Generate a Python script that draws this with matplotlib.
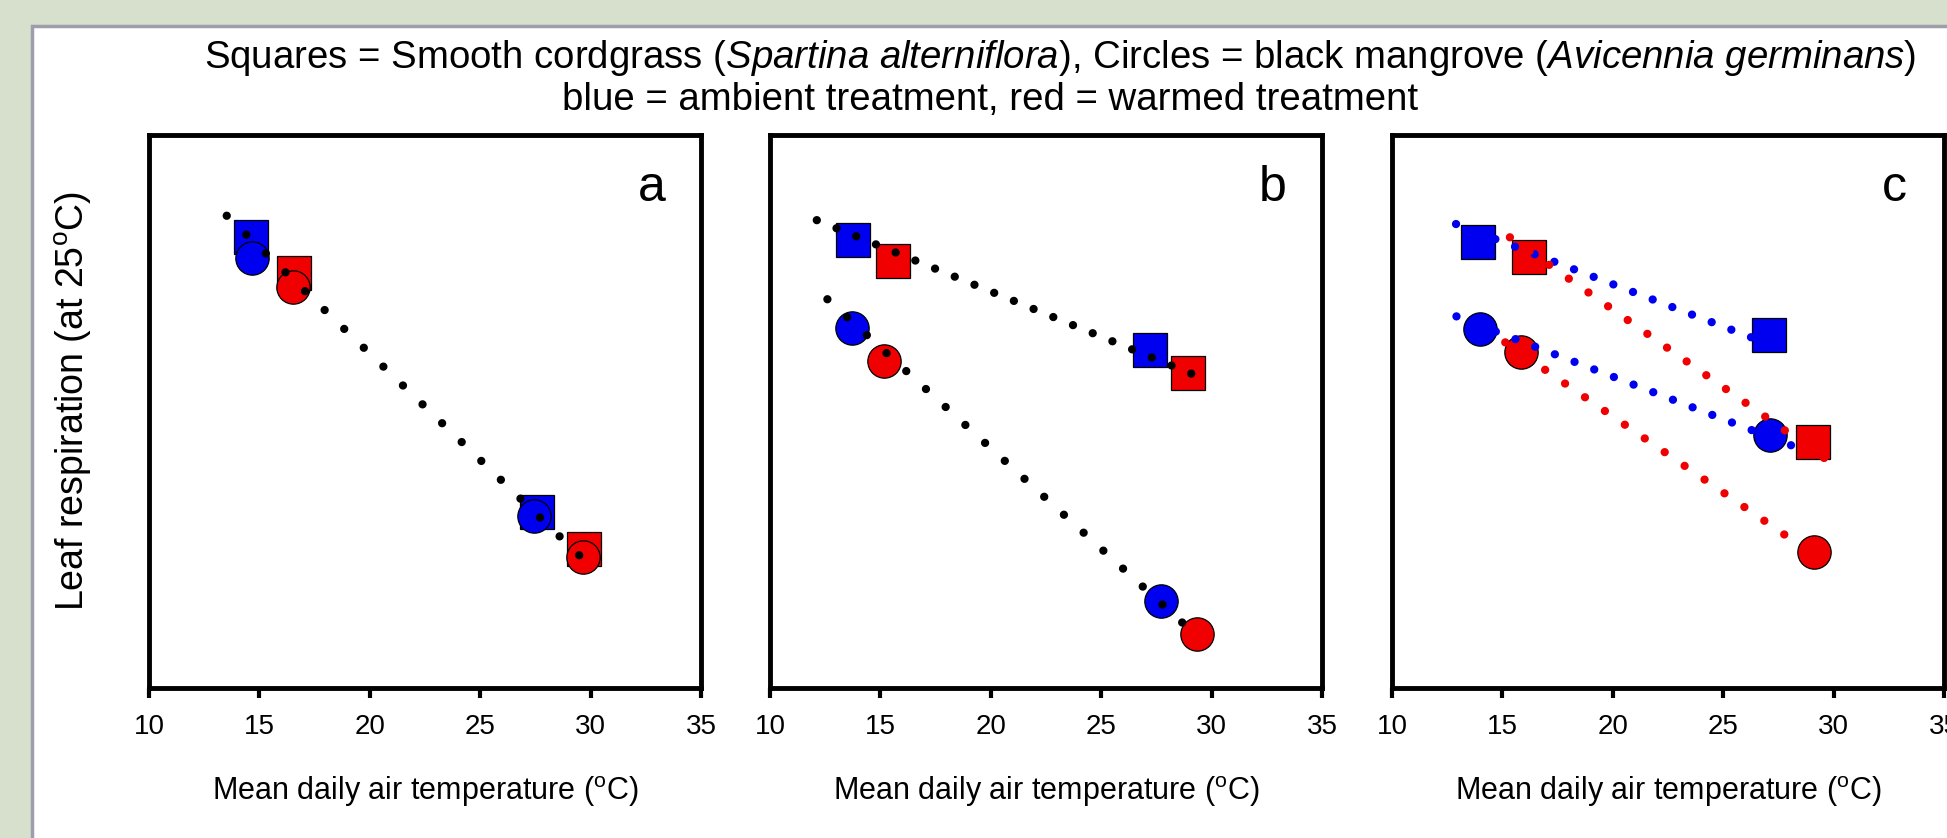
import numpy as np
import matplotlib
matplotlib.use("Agg")
import matplotlib.pyplot as plt
from matplotlib.patches import Rectangle

plt.rcParams['font.family'] = ['Liberation Sans', 'DejaVu Sans']
plt.rcParams['mathtext.fontset'] = 'custom'
plt.rcParams['mathtext.rm'] = 'Liberation Sans'
plt.rcParams['mathtext.it'] = 'Liberation Sans:italic'

# Data: x = mean daily air temperature (C),
# y = leaf respiration as fraction of the (unlabelled) axis height
# panel a
a_sq_amb_x, a_sq_amb_y = [14.63, 27.59], [0.816, 0.318]
a_sq_warm_x, a_sq_warm_y = [16.58, 29.69], [0.750, 0.251]
a_ci_amb_x, a_ci_amb_y = [14.68, 27.43], [0.778, 0.311]
a_ci_warm_x, a_ci_warm_y = [16.50, 29.64], [0.726, 0.237]
a_fit_x, a_fit_y = [13.52, 30.37], [0.854, 0.206]

# panel b
b_sq_amb_x, b_sq_amb_y = [13.76, 27.23], [0.811, 0.611]
b_sq_warm_x, b_sq_warm_y = [15.57, 28.94], [0.773, 0.570]
b_ci_amb_x, b_ci_amb_y = [13.71, 27.71], [0.651, 0.157]
b_ci_warm_x, b_ci_warm_y = [15.18, 29.32], [0.591, 0.097]
b_fit_sq_x, b_fit_sq_y = [12.12, 29.97], [0.846, 0.554]
b_fit_ci_x, b_fit_ci_y = [12.60, 29.56], [0.703, 0.086]

# panel c
c_sq_amb_x, c_sq_amb_y = [13.90, 27.08], [0.806, 0.638]
c_sq_warm_x, c_sq_warm_y = [16.19, 29.06], [0.779, 0.445]
c_ci_amb_x, c_ci_amb_y = [13.99, 27.13], [0.649, 0.457]
c_ci_warm_x, c_ci_warm_y = [15.85, 29.10], [0.607, 0.246]
c_fit_sq_amb_x, c_fit_sq_amb_y = [12.90, 28.04], [0.839, 0.607]
c_fit_sq_warm_x, c_fit_sq_warm_y = [15.34, 29.57], [0.815, 0.416]
c_fit_ci_amb_x, c_fit_ci_amb_y = [12.92, 28.07], [0.672, 0.439]
c_fit_ci_warm_x, c_fit_ci_warm_y = [15.13, 29.57], [0.625, 0.228]

x_ticks = [10, 15, 20, 25, 30, 35]
panel_letters = ['a', 'b', 'c']

BLUE = '#0000f0'
RED = '#f00000'
W, H = 1947, 838

fig = plt.figure(figsize=(W / 100, H / 100), dpi=100)
fig.patch.set_facecolor('#d6e0cc')

# white slide box with grey border
fig.patches.append(Rectangle((32 / W, -0.05), 1.1, 1 - 26 / H + 0.05,
                             transform=fig.transFigure, facecolor='white',
                             edgecolor='#9d9dac', linewidth=2.5, zorder=-5))

lefts = [149, 770, 1392]
axes = []
for left in lefts:
    ax = fig.add_axes([left / W, (H - 688) / H, 552 / W, 553 / H])
    axes.append(ax)


def dotted(ax, x, y, color, step=0.89, lw=6):
    # regression line drawn as round dots spaced ~step degrees apart in x
    line, = ax.plot(x, y, color=color, lw=lw, dash_capstyle='round', zorder=5)
    p = ax.transData.transform(np.column_stack([x, y]))
    length_pt = np.hypot(*(p[1] - p[0])) * 72 / fig.dpi
    n = max(1, round((x[1] - x[0]) / step))
    line.set_dashes((0.001, length_pt / n / lw - 0.001))


def markers(ax, x, y, marker, color, ms=24):
    ax.plot(x, y, ls='none', marker=marker, ms=ms, mfc=color, mec='black',
            mew=0.9, zorder=3)


for ax, letter in zip(axes, panel_letters):
    ax.set_xlim(10, 35)
    ax.set_ylim(0, 1)
    ax.set_xticks(x_ticks)
    ax.set_yticks([])
    for s in ax.spines.values():
        s.set_linewidth(3.5)
    ax.tick_params(axis='x', direction='out', length=7, width=3, pad=12,
                   labelsize=20)
    ax.set_xlabel(r'Mean daily air temperature ($\mathregular{^o}$C)',
                  fontsize=22, labelpad=24)
    ax.text(0.91, 0.905, letter, transform=ax.transAxes, fontsize=36,
            ha='center', va='center')

# panel a
ax = axes[0]
markers(ax, a_sq_amb_x, a_sq_amb_y, 's', BLUE)
markers(ax, a_sq_warm_x, a_sq_warm_y, 's', RED)
markers(ax, a_ci_amb_x, a_ci_amb_y, 'o', BLUE)
markers(ax, a_ci_warm_x, a_ci_warm_y, 'o', RED)
dotted(ax, a_fit_x, a_fit_y, 'black')

# panel b
ax = axes[1]
markers(ax, b_sq_amb_x, b_sq_amb_y, 's', BLUE)
markers(ax, b_sq_warm_x, b_sq_warm_y, 's', RED)
markers(ax, b_ci_amb_x, b_ci_amb_y, 'o', BLUE)
markers(ax, b_ci_warm_x, b_ci_warm_y, 'o', RED)
dotted(ax, b_fit_sq_x, b_fit_sq_y, 'black')
dotted(ax, b_fit_ci_x, b_fit_ci_y, 'black')

# panel c
ax = axes[2]
markers(ax, c_sq_amb_x, c_sq_amb_y, 's', BLUE)
markers(ax, c_sq_warm_x, c_sq_warm_y, 's', RED)
markers(ax, c_ci_amb_x, c_ci_amb_y, 'o', BLUE)
markers(ax, c_ci_warm_x, c_ci_warm_y, 'o', RED)
dotted(ax, c_fit_sq_amb_x, c_fit_sq_amb_y, BLUE)
dotted(ax, c_fit_sq_warm_x, c_fit_sq_warm_y, RED)
dotted(ax, c_fit_ci_amb_x, c_fit_ci_amb_y, BLUE)
dotted(ax, c_fit_ci_warm_x, c_fit_ci_warm_y, RED)

axes[0].set_ylabel(r'Leaf respiration (at 25$\mathregular{^o}$C)', fontsize=27)
axes[0].yaxis.set_label_coords(-0.1, 0.52)

# two-line heading, each line centred on its own
fig.text(1060 / W, 1 - 58 / H,
         r'Squares = Smooth cordgrass ($\it{Spartina\ alterniflora}$), '
         r'Circles = black mangrove ($\it{Avicennia\ germinans}$)',
         fontsize=27.6, ha='center', va='center')
fig.text(990 / W, 1 - 100 / H, 'blue = ambient treatment, red = warmed treatment',
         fontsize=27.6, ha='center', va='center')

fig.savefig('out.png', dpi=100)
